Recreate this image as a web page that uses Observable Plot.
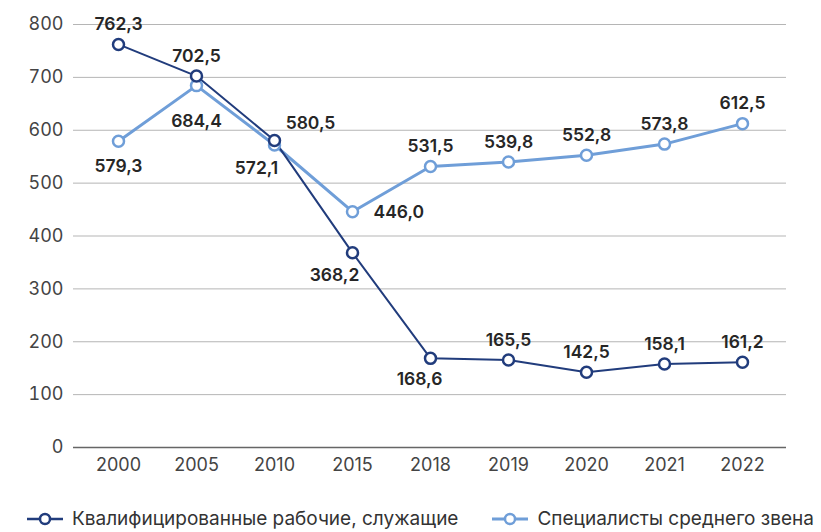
<!DOCTYPE html>
<html><head><meta charset="utf-8">
<script src="https://cdn.jsdelivr.net/npm/d3@7"></script>
<script src="https://cdn.jsdelivr.net/npm/@observablehq/plot@0.6"></script>
<style>
body{margin:0;background:#fff;}
#legend{display:flex;align-items:center;height:22px;line-height:22px;margin-top:13px;padding-left:27px;font-family:Inter,"Open Sans",sans-serif;font-size:19px;color:#333;white-space:nowrap;}
#legend .item{display:flex;align-items:center;margin-right:34px;}
#legend svg{margin-right:9px;}
</style></head><body>
<div id="chart"></div>
<div id="legend"></div>
<script>
const years = ["2000","2005","2010","2015","2018","2019","2020","2021","2022"];
const workers = [762.3, 702.5, 580.5, 368.2, 168.6, 165.5, 142.5, 158.1, 161.2];
const specialists = [579.3, 684.4, 572.1, 446.0, 531.5, 539.8, 552.8, 573.8, 612.5];
const seriesNames = ["Квалифицированные рабочие, служащие", "Специалисты среднего звена"];
const yTicks = [0, 100, 200, 300, 400, 500, 600, 700, 800];
const workersLabelPlace = ["above","above","aboveRight","belowLeft","belowSlightLeft","above","above","above","above"];
const specialistsLabelPlace = ["below","belowFar","belowLeft","right","above","above","above","above","above"];

const colors = ["#213c7c", "#6f9ed8"];
const places = {
  above: {dx: 0, dy: -20, textAnchor: "middle"},
  below: {dx: 0, dy: 25, textAnchor: "middle"},
  belowFar: {dx: 0, dy: 36, textAnchor: "middle"},
  right: {dx: 21, dy: 1, textAnchor: "start"},
  aboveRight: {dx: 36, dy: -17, textAnchor: "middle"},
  belowLeft: {dx: -18, dy: 23, textAnchor: "middle"},
  belowSlightLeft: {dx: -11, dy: 21, textAnchor: "middle"}
};

const rows = [];
years.forEach((y, i) => {
  rows.push({year: y, value: workers[i], series: seriesNames[0], place: workersLabelPlace[i]});
});
years.forEach((y, i) => {
  rows.push({year: y, value: specialists[i], series: seriesNames[1], place: specialistsLabelPlace[i]});
});
const fmt = v => d3.format(".1f")(v).replace(".", ",");

const labelMarks = Object.entries(places).map(([name, p]) =>
  Plot.text(rows.filter(d => d.place === name), {
    x: "year", y: "value", text: d => fmt(d.value),
    dx: p.dx, dy: p.dy, textAnchor: p.textAnchor,
    fill: "#262626", fontSize: 17.5, fontWeight: 600,
    fontFamily: "Inter, 'Open Sans', sans-serif"
  })
);

const chart = Plot.plot({
  width: 821,
  height: 495,
  marginLeft: 73,
  marginRight: 35,
  marginTop: 24,
  marginBottom: 48,
  style: {fontFamily: "Inter, 'Open Sans', sans-serif", fontSize: "18px", color: "#444", background: "#fff"},
  x: {type: "point", domain: years, padding: 0.54, label: null},
  y: {domain: [0, 800], label: null},
  color: {domain: seriesNames, range: colors},
  marks: [
    Plot.gridY(yTicks, {stroke: "#b5b5b5", strokeOpacity: 1, strokeWidth: 1}),
    Plot.ruleY([0], {stroke: "#666", strokeWidth: 1.3}),
    Plot.axisY(yTicks, {tickSize: 0, tickPadding: 10, fontSize: 18, fill: "#444", label: null}),
    Plot.axisX({tickSize: 0, tickPadding: 11, fontSize: 18, fill: "#444", label: null}),
    Plot.line(rows.filter(d => d.series === seriesNames[1]), {x: "year", y: "value", stroke: colors[1], strokeWidth: 3}),
    Plot.line(rows.filter(d => d.series === seriesNames[0]), {x: "year", y: "value", stroke: colors[0], strokeWidth: 2}),
    Plot.dot(rows.filter(d => d.series === seriesNames[1]), {x: "year", y: "value", r: 5.5, fill: "#fff", stroke: colors[1], strokeWidth: 2.5}),
    Plot.dot(rows.filter(d => d.series === seriesNames[0]), {x: "year", y: "value", r: 5.5, fill: "#fff", stroke: colors[0], strokeWidth: 2.5}),
    ...labelMarks
  ]
});
document.getElementById("chart").append(chart);

const legend = document.getElementById("legend");
seriesNames.forEach((name, i) => {
  const item = document.createElement("div");
  item.className = "item";
  item.innerHTML = `<svg width="36" height="14"><line x1="0" x2="36" y1="7" y2="7" stroke="${colors[i]}" stroke-width="${i ? 3 : 2.5}"/><circle cx="18" cy="7" r="5" fill="#fff" stroke="${colors[i]}" stroke-width="2.5"/></svg><span>${name}</span>`;
  legend.append(item);
});
</script>
</body></html>
